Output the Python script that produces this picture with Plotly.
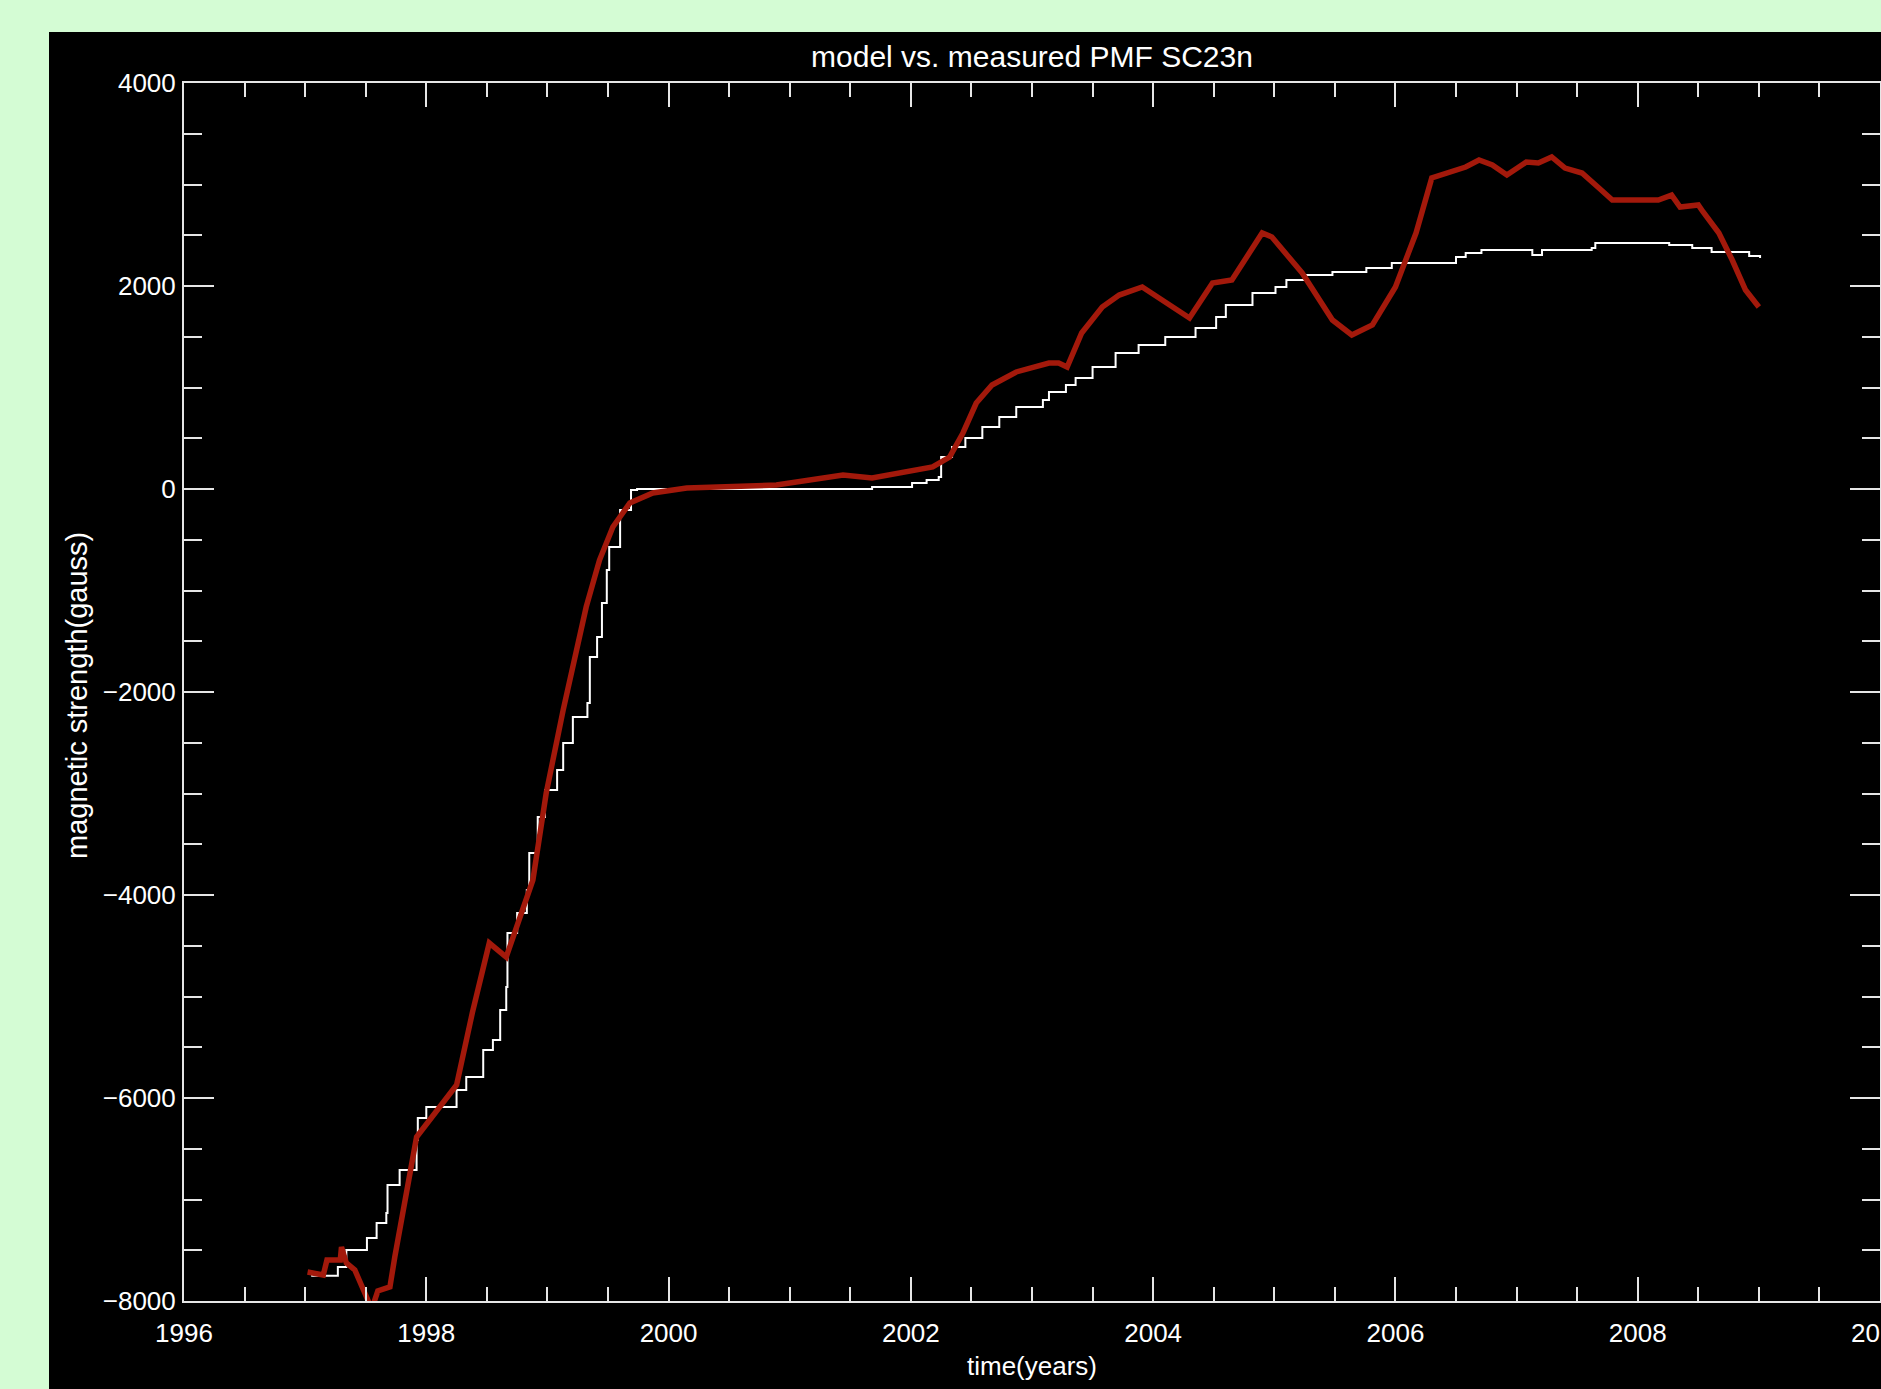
import plotly.graph_objects as go

# measured (red) curve
red_years = [1997.02, 1997.15, 1997.18, 1997.29, 1997.30, 1997.34, 1997.41, 1997.47, 1997.52, 1997.55,
             1997.60, 1997.70, 1997.74, 1997.92, 1998.25, 1998.38, 1998.52, 1998.66, 1998.88, 1998.99,
             1999.13, 1999.22, 1999.32, 1999.43, 1999.54, 1999.68, 1999.87, 2000.15, 2000.89, 2001.44,
             2001.68, 2002.18, 2002.32, 2002.43, 2002.54, 2002.67, 2002.87, 2003.14, 2003.22, 2003.29,
             2003.41, 2003.58, 2003.72, 2003.91, 2004.05, 2004.30, 2004.49, 2004.65, 2004.90, 2004.98,
             2005.23, 2005.48, 2005.64, 2005.81, 2006.00, 2006.17, 2006.30, 2006.44, 2006.58, 2006.69,
             2006.80, 2006.92, 2007.08, 2007.18, 2007.29, 2007.40, 2007.54, 2007.68, 2007.79, 2008.17,
             2008.28, 2008.35, 2008.50, 2008.54, 2008.67, 2008.78, 2008.89, 2009.00]
red_values = [-7714, -7744, -7596, -7596, -7468, -7625, -7694, -7862, -7970, -8080,
              -7900, -7862, -7566, -6384, -5872, -5162, -4473, -4611, -3852, -2995,
              -2177, -1685, -1163, -700, -374, -138, -39, 10, 39, 138,
              108, 217, 315, 552, 847, 1025, 1153, 1241, 1241, 1202,
              1537, 1793, 1911, 1990, 1882, 1685, 2029, 2059, 2522, 2483,
              2128, 1665, 1517, 1616, 1990, 2522, 3064, 3123, 3172, 3241,
              3192, 3094, 3221, 3212, 3271, 3162, 3113, 2965, 2847, 2847,
              2896, 2778, 2798, 2729, 2522, 2256, 1960, 1793]

# model (white) curve
white_years = [1997.05, 1997.27, 1997.34, 1997.51, 1997.59, 1997.67, 1997.68, 1997.78, 1997.92, 1997.93,
               1998.00, 1998.25, 1998.33, 1998.47, 1998.55, 1998.61, 1998.66, 1998.67, 1998.75, 1998.83,
               1998.85, 1998.92, 1998.98, 1999.08, 1999.13, 1999.21, 1999.33, 1999.35, 1999.41, 1999.45,
               1999.49, 1999.51, 1999.60, 1999.69, 1999.74, 2001.68, 2002.01, 2002.13, 2002.23, 2002.25,
               2002.34, 2002.45, 2002.59, 2002.73, 2002.87, 2003.09, 2003.14, 2003.28, 2003.36, 2003.50,
               2003.69, 2003.88, 2004.10, 2004.35, 2004.52, 2004.60, 2004.82, 2005.01, 2005.10, 2005.26,
               2005.48, 2005.76, 2005.97, 2006.42, 2006.50, 2006.58, 2006.71, 2007.13, 2007.21, 2007.62,
               2007.65, 2008.26, 2008.45, 2008.61, 2008.92, 2009.01]
white_values = [-7750, -7665, -7497, -7379, -7231, -7133, -6857, -6709, -6414, -6197,
                -6089, -5921, -5793, -5527, -5429, -5133, -4906, -4374, -4177, -3951,
                -3586, -3232, -2965, -2768, -2502, -2246, -2108, -1655, -1458, -1123,
                -798, -571, -207, -10, 0, 20, 59, 89, 118, 315,
                414, 502, 611, 709, 808, 877, 956, 1025, 1094, 1202,
                1340, 1419, 1498, 1586, 1695, 1813, 1931, 1990, 2059, 2108,
                2138, 2177, 2226, 2226, 2286, 2325, 2355, 2305, 2355, 2374,
                2424, 2404, 2374, 2335, 2296, 2276]

x_tickvals = [1996, 1998, 2000, 2002, 2004, 2006, 2008, 2010]
x_ticktext = ["1996", "1998", "2000", "2002", "2004", "2006", "2008", "2010"]
y_tickvals = [-8000, -6000, -4000, -2000, 0, 2000, 4000]
y_ticktext = ["\u22128000", "\u22126000", "\u22124000", "\u22122000", "0", "2000", "4000"]

title_text = "model vs. measured PMF SC23n"
x_title = "time(years)"
y_title = "magnetic strength(gauss)"

FONT = "Liberation Sans Narrow, Liberation Sans, DejaVu Sans, sans-serif"
AX = "#e6e6e6"

fig = go.Figure()
fig.add_trace(go.Scatter(x=white_years, y=white_values, mode="lines",
                         line=dict(color="#ffffff", width=2, shape="hv"), showlegend=False))
fig.add_trace(go.Scatter(x=red_years, y=red_values, mode="lines",
                         line=dict(color="#a3190b", width=5.5), showlegend=False))

W, H = 1881, 1389
L, R, T, B = 184, 1, 83, 88
pw = W - L - R
ph = H - T - B

# black panel behind the plot
fig.add_shape(type="rect", xref="paper", yref="paper",
              x0=(49 - L) / pw, x1=1.05, y0=-0.1, y1=(H - B - 32) / ph,
              fillcolor="black", line=dict(width=0), layer="below")

fig.update_layout(
    width=W, height=H,
    margin=dict(l=L, r=R, t=T, b=B, pad=0, autoexpand=False),
    paper_bgcolor="#d4fcd4",
    plot_bgcolor="black",
    font=dict(family=FONT, size=26, color="white"),
    title=dict(text=title_text, x=0.5, xref="paper", y=1 - 56 / H, yref="container",
               xanchor="center", yanchor="middle", font=dict(family=FONT, size=30, color="white")),
    showlegend=False,
)

fig.update_xaxes(range=[1996, 2010], tickvals=x_tickvals, ticktext=x_ticktext,
                 ticks="inside", ticklen=24, tickwidth=2, tickcolor=AX,
                 minor=dict(dtick=0.5, tick0=1996, ticks="inside", ticklen=14, tickwidth=2, tickcolor=AX),
                 showline=True, linecolor=AX, linewidth=2, mirror="ticks", automargin=False,
                 showgrid=False, zeroline=False, ticklabelstandoff=8, ticklabeloverflow="allow",
                 tickfont=dict(family=FONT, size=26, color="white"))
fig.update_yaxes(range=[-8000, 4000], tickvals=y_tickvals, ticktext=y_ticktext,
                 ticks="inside", ticklen=30, tickwidth=2, tickcolor=AX,
                 minor=dict(dtick=500, tick0=0, ticks="inside", ticklen=18, tickwidth=2, tickcolor=AX),
                 showline=True, linecolor=AX, linewidth=2, mirror="ticks", automargin=False,
                 showgrid=False, zeroline=False, ticklabelstandoff=1,
                 tickfont=dict(family=FONT, size=26, color="white"))

fig.add_annotation(text=x_title, xref="paper", yref="paper", x=0.5, y=-(1366 - (H - B)) / ph,
                   xanchor="center", yanchor="middle", showarrow=False,
                   font=dict(family=FONT, size=26, color="white"))
fig.add_annotation(text=y_title, xref="paper", yref="paper", x=(77 - L) / pw, y=((H - B) - 695) / ph,
                   xanchor="center", yanchor="middle", textangle=-90, showarrow=False,
                   font=dict(family=FONT, size=29, color="white"))

fig.write_html("out.html", config={"displayModeBar": False},
               post_script="document.body.style.margin='0px';document.body.style.background='#d4fcd4';")
